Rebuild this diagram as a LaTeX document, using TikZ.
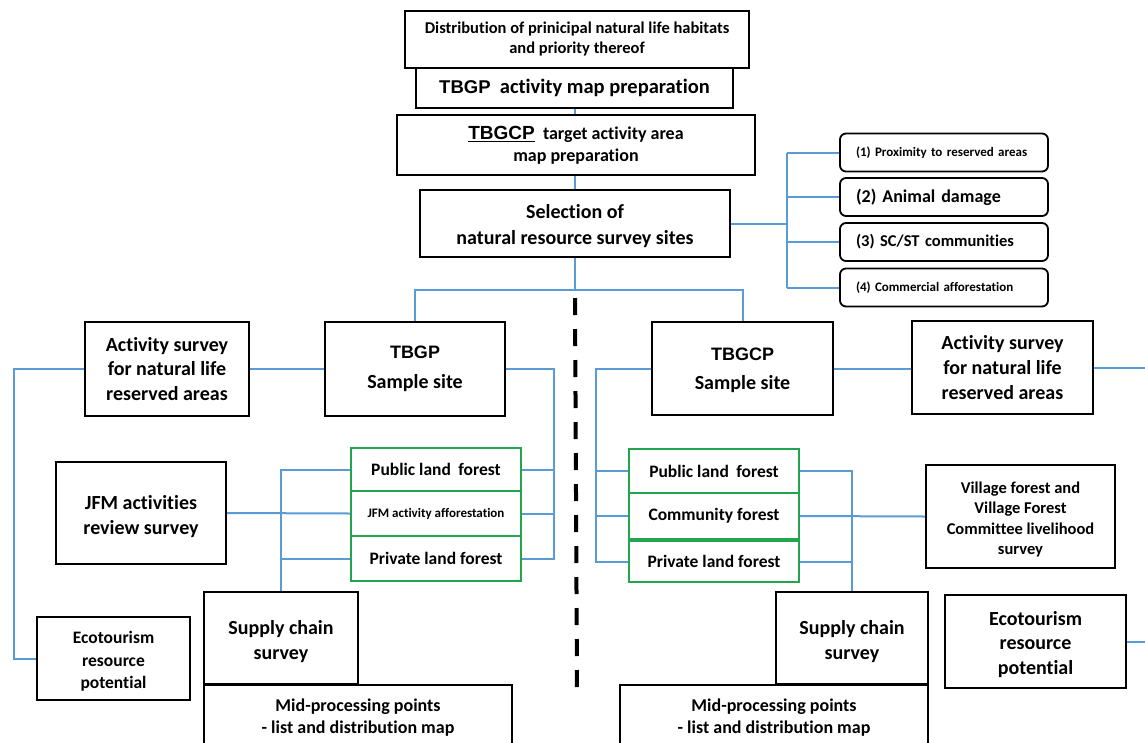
\documentclass[tikz,border=0pt]{standalone}
\usepackage{fontspec}
\setmainfont{Carlito}[Ligatures=NoCommon]
\newfontfamily\arialfam{Liberation Sans}
\usetikzlibrary{backgrounds}
\newcommand\fsz[2]{\fontsize{#1}{#2}\selectfont}
% invisible strut that lowers the first line of a node's text
\newcommand\toppad[1]{\rule{0pt}{#1pt}}
\definecolor{linkblue}{RGB}{91,155,213}
\definecolor{boxgreen}{RGB}{35,165,80}

\begin{document}
\begin{tikzpicture}[x=1pt,y=-1pt,
  box/.style={draw=black, line width=1.8pt, fill=white, align=center, inner sep=0pt},
  gbox/.style={draw=boxgreen, line width=1.8pt, fill=white, align=center, inner sep=0pt,
    minimum width=170pt, font=\bfseries\fsz{17.5}{20}},
  critbox/.style={draw=black, line width=1.8pt, rounded corners=6pt, fill=white, align=left,
    inner xsep=16pt, inner ysep=0pt, text width=176pt, minimum height=38pt},
  link/.style={draw=linkblue, line width=2pt},
]
\clip (0,0) rectangle (1145,742);

% ---------- top chain ----------
\node[box, minimum width=344pt, minimum height=57pt, font=\bfseries\fsz{16.5}{20}] (habitat) at (577,39.5)
  {Distribution of prinicipal natural life habitats\\and priority thereof};
\node[box, minimum width=317pt, minimum height=40pt, font=\bfseries\fsz{20.5}{24}] (tbgpmap) at (574.5,88)
  {{\arialfam\fsz{18.5}{24}TBGP}\ \ activity map preparation};
\node[box, minimum width=358pt, minimum height=60pt, font=\bfseries\fsz{18}{22}] (tbgcpmap) at (576,145)
  {\underline{\arialfam\fsz{19}{22}TBGCP}\ \ target activity area\\map preparation};
\node[box, minimum width=310pt, minimum height=67pt, font=\bfseries\fsz{20}{26}] (select) at (575,223.5)
  {\toppad{20}Selection of\\natural resource survey sites};

% ---------- selection criteria ----------
\node[critbox, font=\bfseries\fsz{13}{16}] (c1) at (944,152.5) {(1) Proximity to reserved areas};
\node[critbox, font=\bfseries\fsz{18}{20}] (c2) at (944,197) {(2) Animal damage};
\node[critbox, font=\bfseries\fsz{16.5}{20}] (c3) at (944,242) {(3) SC/ST communities};
\node[critbox, font=\bfseries\fsz{13}{16}] (c4) at (944,287.5) {(4) Commercial afforestation};

% ---------- TBGP side ----------
\node[box, minimum width=164pt, minimum height=94pt, font=\bfseries\fsz{20}{24.5}] (actL) at (167,369)
  {Activity survey\\for natural life\\reserved areas};
\node[box, minimum width=180pt, minimum height=94pt, font=\bfseries\fsz{20}{30}] (tbgp) at (415,369)
  {{\arialfam\fsz{18}{30}TBGP}\\Sample site};
\node[gbox, minimum height=43pt] (pubL) at (436,469.5) {Public land\hspace{0.2em} forest};
\node[gbox, minimum height=45pt, font=\bfseries\fsz{13}{16}] (jfmA) at (436,513.5) {JFM activity afforestation};
\node[gbox, minimum height=45pt] (privL) at (436,558.5) {Private land forest};
\node[box, minimum width=170pt, minimum height=102pt, font=\bfseries\fsz{20}{25}] (jfmR) at (141,513)
  {\toppad{22}JFM activities\\review survey};
\node[box, minimum width=154pt, minimum height=92pt, font=\bfseries\fsz{20}{25}] (supL) at (281,638)
  {\toppad{22}Supply chain\\survey};
\node[box, minimum width=308pt, minimum height=80pt, anchor=north] (midL) at (358,684) {};
\node[font=\bfseries\fsz{18}{22}, align=center] at (midL.north |- 0,718) {Mid-processing points\\- list and distribution map};
\node[box, minimum width=153pt, minimum height=83pt, font=\bfseries\fsz{17.5}{22.5}] (ecoL) at (113.5,658.5)
  {\toppad{18}Ecotourism\\resource\\potential};

% ---------- TBGCP side ----------
\node[box, minimum width=181pt, minimum height=93pt, font=\bfseries\fsz{20}{29}] (tbgcp) at (742.5,368.5)
  {{\arialfam\fsz{18}{29}\toppad{16}TBGCP}\\Sample site};
\node[box, minimum width=181pt, minimum height=93pt, font=\bfseries\fsz{20}{25}] (actR) at (1002.5,367.5)
  {Activity survey\\for natural life\\reserved areas};
\node[gbox, minimum height=44pt] (pubR) at (714,471) {Public land\hspace{0.2em} forest};
\node[gbox, minimum height=46pt] (comR) at (714,516) {Community forest};
\node[gbox, minimum height=41pt] (privR) at (714,561.5) {Private land forest};
\node[box, minimum width=189pt, minimum height=103pt, font=\bfseries\fsz{16.5}{20.5}] (village) at (1020.5,516.5)
  {\toppad{17.5}Village forest and\\Village Forest\\Committee livelihood\\survey};
\node[box, minimum width=152pt, minimum height=92pt, font=\bfseries\fsz{20}{25}] (supR) at (852,638)
  {\toppad{22}Supply chain\\survey};
\node[box, minimum width=308pt, minimum height=80pt, anchor=north] (midR) at (774,684) {};
\node[font=\bfseries\fsz{18}{22}, align=center] at (midR.north |- 0,718) {Mid-processing points\\- list and distribution map};
\node[box, minimum width=181pt, minimum height=93pt, font=\bfseries\fsz{20}{24.5}] (ecoR) at (1035.5,641.5)
  {\toppad{19.5}Ecotourism\\resource\\potential};

% ---------- helper coordinates ----------
\coordinate (split) at (575,290);
\coordinate (crit) at (787,0);
\coordinate (outerL) at (14,0);
\coordinate (trunkL) at (554,0);
\coordinate (trunkR) at (596,0);
\coordinate (edge) at (1150,0);
\coordinate (dashtop) at (575,298);
\coordinate (dashbot) at (577,690);

\begin{pgfonlayer}{background}
\fill[white] (0,0) rectangle (1145,742);
% top chain
\draw[link] (tbgpmap.south) -- (tbgpmap.south |- tbgcpmap.north);
\draw[link] (select.north) -- (select.north |- tbgcpmap.south);
\draw[link] (select.south) -- (split);
\draw[link] (tbgp.north) -- (tbgp.north |- split) -- (tbgcp.north |- split) -- (tbgcp.north);
% criteria bracket
\draw[link] (select.east) -- (select.east -| crit);
\draw[link] (crit |- c1.west) -- (crit |- c4.west);
\foreach \c in {c1,c2,c3,c4} \draw[link] (crit |- \c.west) -- (\c.west);
% TBGP side
\draw[link] (actL.east) -- (tbgp.west);
\draw[link] (actL.west) -- (actL.west -| outerL) |- (ecoL.west);
\draw[link] (tbgp.east) -| (trunkL |- privL.east) -- (privL.east);
\draw[link] (pubL.east) -- (pubL.east -| trunkL);
\draw[link] (jfmA.east) -- (jfmA.east -| trunkL);
\draw[link] (supL.north) -- (supL.north |- pubL.west) -- (pubL.west);
\draw[link] (privL.west) -- (privL.west -| supL.north);
\draw[link] (jfmR.east) -- (jfmA.west);
% TBGCP side
\draw[link] (tbgcp.east) -- (tbgcp.east -| actR.west);
\draw[link] (actR.east) -- (actR.east -| edge);
\draw[link] (tbgcp.west) -| (trunkR |- privR.west) -- (privR.west);
\draw[link] (pubR.west) -- (pubR.west -| trunkR);
\draw[link] (comR.west) -- (comR.west -| trunkR);
\draw[link] (supR.north) -- (supR.north |- pubR.east) -- (pubR.east);
\draw[link] (privR.east) -- (privR.east -| supR.north);
\draw[link] (comR.east) -- (village.west);
\draw[link] (ecoR.east) -- (ecoR.east -| edge);
\end{pgfonlayer}

% divider between the two programmes
\draw[line width=4pt, dash pattern=on 17pt off 14pt] (dashtop) -- (dashbot);
\end{tikzpicture}
\end{document}
